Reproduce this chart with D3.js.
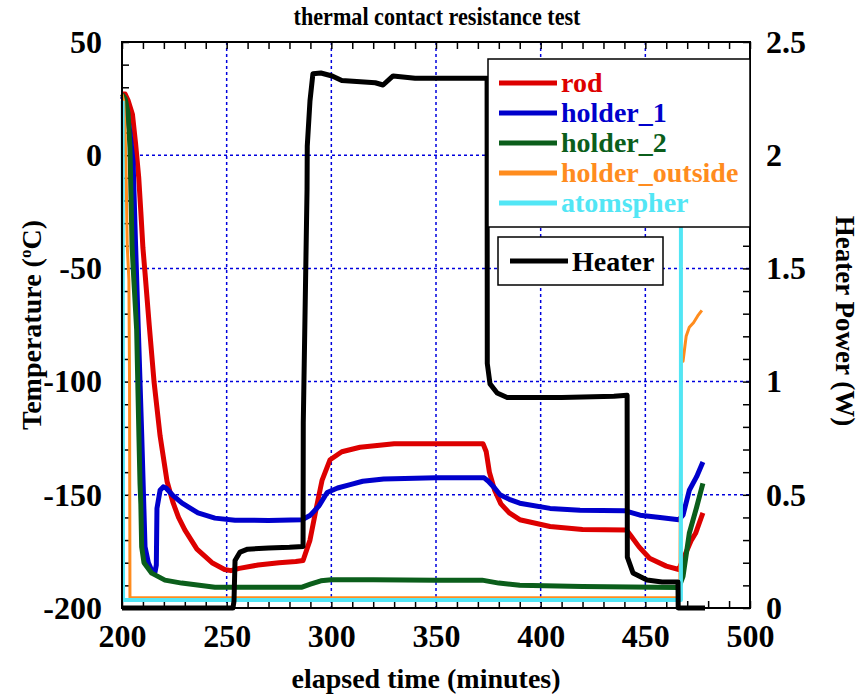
<!DOCTYPE html>
<html>
<head>
<meta charset="utf-8">
<script src="https://cdn.jsdelivr.net/npm/d3@7"></script>
<style>
  body { margin: 0; background: #fff; }
  text { font-family: "Liberation Serif", "DejaVu Serif", serif; font-weight: bold; }
</style>
</head>
<body>
<svg width="859" height="694"></svg>
<script>
// data (minutes, deg C) ======================================
var rodData = [[200,27],[201.5,27],[203,24],[205,18],[206.5,5],[208,-10],[209,-25],[210,-41],[211,-52],
  [213,-75],[215.3,-100],[218.2,-124],[221.5,-144],[224.4,-153.5],[227,-160],[230,-165.5],[235.8,-174],
  [243,-180],[249,-183],[252,-183.5],[256,-182.5],[265,-181],[275,-180],[283,-179.5],[286.5,-179],
  [289.8,-170],[293,-155],[295.6,-143.5],[299.4,-134.5],[305,-131],[313.7,-129],[330,-127.5],[350,-127.5],
  [372.5,-127.5],[374,-131],[375.5,-140],[378,-148],[381,-154],[385,-158],[390,-161],[404.5,-164],
  [420,-165.3],[441,-165.5],[443,-168],[447,-173],[452,-178],[460,-181.5],[466,-183],
  [468.5,-177.5],[472,-170],[474,-167],[477.5,-158]];

var holder1Data = [[200,26],[201.5,24],[203,15],[203.8,10],[205.3,-3],[206.5,-40],[207.8,-77],[209.4,-123],
  [211,-173],[212.6,-180],[214,-183],[215.8,-184],[216.4,-181],[216.7,-156],[218.2,-148],[219.7,-146.5],
  [221,-147],[224,-150],[228.7,-153.7],[236.3,-158],[244.4,-160.3],[254,-161.2],[270,-161.3],[286,-161],
  [290,-159],[294,-155],[298,-149],[303,-147],[309,-145.5],[315,-144],[325,-143],[350,-142.5],[373,-142.5],
  [375,-144],[378,-147],[380.6,-150],[385,-152],[390,-153.7],[404.5,-156],[418.8,-156.8],[440,-157],
  [447.5,-159],[457,-160],[466,-161],[468,-159],[471,-148],[474.5,-142],[477.5,-135.5]];

var holder2Data = [[200,27],[201.5,25],[202.9,18.5],[203.8,3.5],[204.8,-40],[205.4,-50.8],[207,-77],
  [208.1,-124.6],[208.6,-145],[209,-154],[209.4,-173],[210.5,-180],[214.2,-184.6],[220.5,-187.7],
  [228.5,-189],[244.4,-190.8],[286,-190.8],[290,-189.5],[295,-188],[300,-187.5],[320,-187.5],[350,-187.7],
  [372,-187.7],[380,-189],[390,-190],[420,-190.5],[466,-191],[468,-186],[471,-167],[474.5,-155.5],[477.5,-145]];

var outsideData = [[200,27],[200.8,24],[201.5,10],[202,-10],[202.5,-40],[203.3,-55],[203.6,-100],[203.8,-195.5],
  [466.5,-195.5],[467,-91],[468,-91],[469.5,-80],[471,-76],[473,-74],[475,-71],[477,-68.5]];

var atmosData = [[200.3,24],[200.5,-196.5],[467,-196.5],[467,20]];

// heater power (W)
var heaterData = [[200,0],[253,0],[253.5,0.03],[254,0.21],[256.4,0.247],[260,0.26],[270,0.265],[280,0.268],
  [286.5,0.272],[286.6,0.82],[288.4,1.85],[288.5,2.04],[289.8,2.24],[291.2,2.36],[295,2.363],[300.4,2.35],
  [305,2.33],[321,2.32],[324.7,2.31],[329.5,2.35],[340,2.34],[356.7,2.34],[374.4,2.34],[374.5,1.08],
  [375.8,0.99],[379.2,0.95],[384,0.93],[410,0.93],[435,0.935],[441.3,0.94],[441.4,0.225],[444.1,0.155],
  [450.8,0.124],[458,0.115],[465.6,0.115],[465.7,0],[478.5,0]];

var seriesNames = ["rod", "holder_1", "holder_2", "holder_outside", "atomspher"];
var seriesColors = ["#dd0000", "#0000cc", "#0b5e1b", "#ff8c1e", "#52e6f5"];
var heaterColor = "#000000";

var xTicks = [200, 250, 300, 350, 400, 450, 500];
var yTicks = [-200, -150, -100, -50, 0, 50];
var y2Ticks = [0, 0.5, 1, 1.5, 2, 2.5];

// setup ===================================================
var svg = d3.select("svg");
var mLeft = 122, mRight = 750, mTop = 42, mBottom = 608;

var x = d3.scaleLinear().domain([200, 500]).range([mLeft, mRight]);
var y = d3.scaleLinear().domain([-200, 50]).range([mBottom, mTop]);
var y2 = d3.scaleLinear().domain([0, 2.5]).range([mBottom, mTop]);

// grid
var grid = svg.append("g").attr("class", "grid")
  .attr("stroke", "#0000dd").attr("stroke-width", 1.5).attr("stroke-dasharray", "3,3");
grid.selectAll("line.v").data(xTicks.slice(1, -1)).enter().append("line")
  .attr("x1", function(d) { return x(d); }).attr("x2", function(d) { return x(d); })
  .attr("y1", mTop).attr("y2", mBottom);
grid.selectAll("line.h").data(yTicks.slice(1, -1)).enter().append("line")
  .attr("y1", function(d) { return y(d); }).attr("y2", function(d) { return y(d); })
  .attr("x1", mLeft).attr("x2", mRight);

// axes (ticks inward)
function styleAxis(g) {
  g.select(".domain").remove();
  g.selectAll(".tick line").attr("stroke", "#000").attr("stroke-width", 1.5);
  g.selectAll(".tick text").attr("font-size", 32).attr("fill", "#000")
    .style("font-family", "'Liberation Serif', serif").style("font-weight", "bold");
}
var minorX = d3.range(200, 501, 10), minorY = d3.range(-200, 51, 10), minorY2 = d3.range(0, 2.51, 0.1);

svg.append("g").attr("transform", "translate(0," + mBottom + ")")
  .call(d3.axisBottom(x).tickValues(minorX).tickSize(-7).tickFormat(function(d) { return xTicks.indexOf(d) >= 0 ? d : ""; }).tickPadding(16))
  .call(styleAxis);
svg.append("g").attr("transform", "translate(0," + mTop + ")")
  .call(d3.axisTop(x).tickValues(minorX).tickSize(-7).tickFormat(""))
  .call(styleAxis);
svg.append("g").attr("transform", "translate(" + mLeft + ",0)")
  .call(d3.axisLeft(y).tickValues(minorY).tickSize(-7).tickFormat(function(d) { return yTicks.indexOf(d) >= 0 ? d : ""; }).tickPadding(20))
  .call(styleAxis);
svg.append("g").attr("transform", "translate(" + mRight + ",0)")
  .call(d3.axisRight(y2).tickValues(minorY2).tickSize(-7)
    .tickFormat(function(d) { var r = Math.round(d * 10) / 10; return y2Ticks.indexOf(r) >= 0 ? r : ""; }).tickPadding(16))
  .call(styleAxis);

// lines
var line = d3.line().x(function(d) { return x(d[0]); }).y(function(d) { return y(d[1]); });
var line2 = d3.line().x(function(d) { return x(d[0]); }).y(function(d) { return y2(d[1]); });
var allSeries = [rodData, holder1Data, holder2Data, outsideData, atmosData];
var widths = [5, 5, 5, 3, 4];
allSeries.forEach(function(s, i) {
  svg.append("path").datum(s).attr("d", line).attr("fill", "none")
    .attr("stroke", seriesColors[i]).attr("stroke-width", widths[i]).attr("stroke-linejoin", "round");
});
svg.append("path").datum(heaterData).attr("d", line2).attr("fill", "none")
  .attr("stroke", heaterColor).attr("stroke-width", 5).attr("stroke-linejoin", "round");

// frame
svg.append("rect").attr("x", mLeft).attr("y", mTop).attr("width", mRight - mLeft).attr("height", mBottom - mTop)
  .attr("fill", "none").attr("stroke", "#000").attr("stroke-width", 2);

// legends
var lg = svg.append("g");
lg.append("rect").attr("x", 488).attr("y", 59).attr("width", 262).attr("height", 168)
  .attr("fill", "#fff").attr("stroke", "#000").attr("stroke-width", 1.5);
seriesNames.forEach(function(n, i) {
  var yy = 83 + i * 30;
  lg.append("line").attr("x1", 499).attr("x2", 557).attr("y1", yy).attr("y2", yy)
    .attr("stroke", seriesColors[i]).attr("stroke-width", 5);
  lg.append("text").attr("x", 561).attr("y", yy + 9).attr("font-size", 28)
    .attr("fill", seriesColors[i]).text(n);
});
lg.append("rect").attr("x", 498).attr("y", 237).attr("width", 165).attr("height", 48)
  .attr("fill", "#fff").attr("stroke", "#000").attr("stroke-width", 1.5);
lg.append("line").attr("x1", 510).attr("x2", 568).attr("y1", 261).attr("y2", 261)
  .attr("stroke", heaterColor).attr("stroke-width", 5);
lg.append("text").attr("x", 572).attr("y", 271).attr("font-size", 28).attr("fill", "#000").text("Heater");

// titles
svg.append("text").attr("x", 437).attr("y", 25).attr("text-anchor", "middle").attr("font-size", 25)
  .attr("textLength", 287).attr("lengthAdjust", "spacingAndGlyphs")
  .text("thermal contact resistance test");
svg.append("text").attr("x", 426).attr("y", 688).attr("text-anchor", "middle").attr("font-size", 28)
  .text("elapsed time (minutes)");
var yl = svg.append("text").attr("transform", "translate(41,325) rotate(-90)")
  .attr("text-anchor", "middle").attr("font-size", 28);
yl.append("tspan").text("Temperature (");
yl.append("tspan").attr("font-size", 17).attr("dy", -10).text("o");
yl.append("tspan").attr("dy", 10).text("C)");
svg.append("text").attr("transform", "translate(836,321) rotate(90)")
  .attr("text-anchor", "middle").attr("font-size", 27).text("Heater Power (W)");
</script>
</body>
</html>
